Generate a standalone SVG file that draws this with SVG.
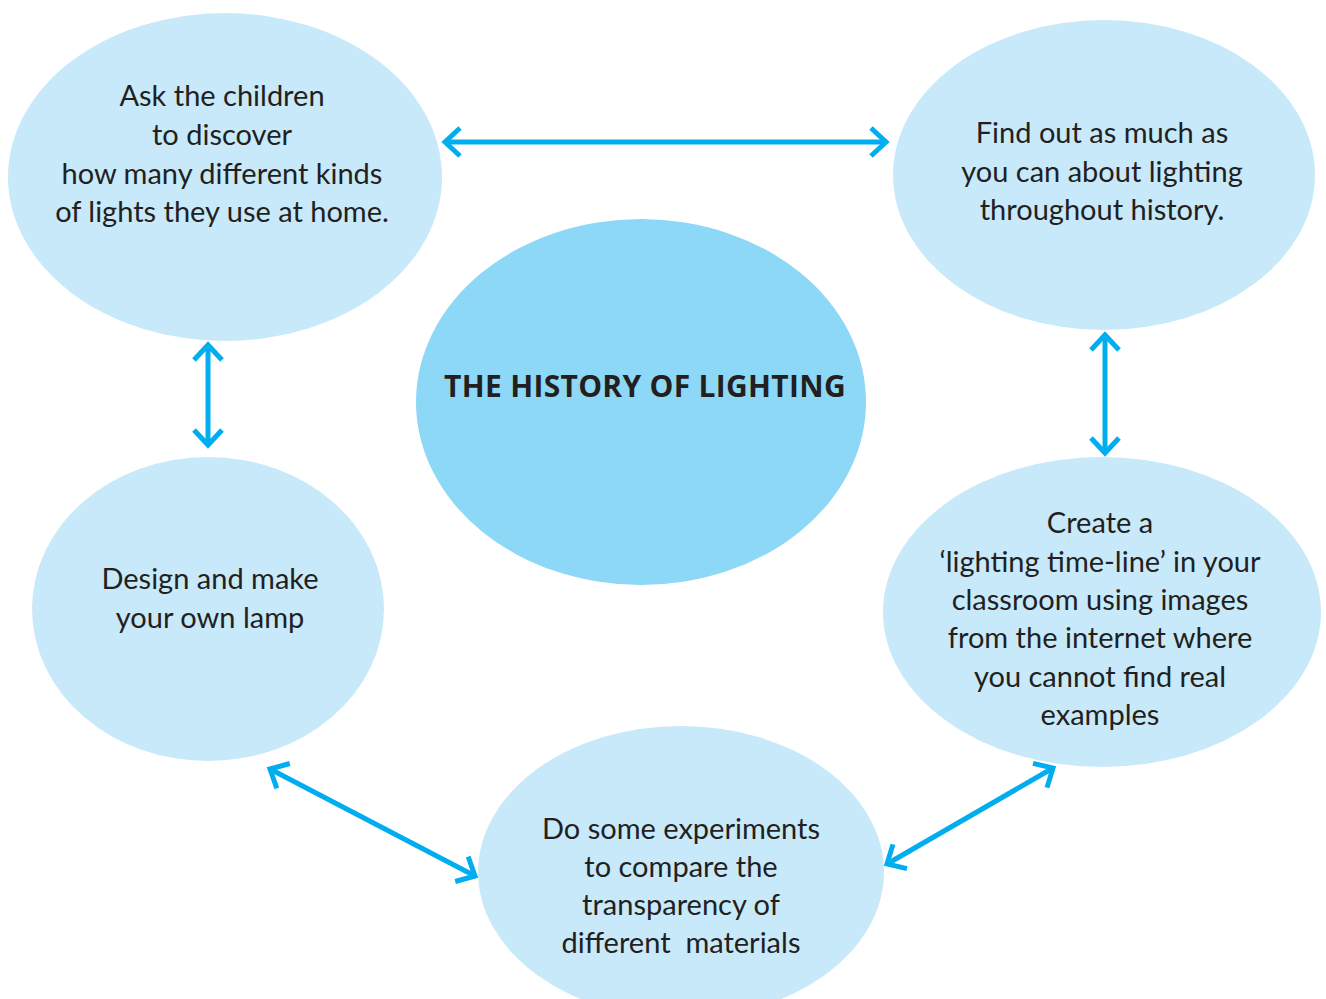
<svg xmlns="http://www.w3.org/2000/svg" width="1326" height="999" viewBox="0 0 1326 999">
<defs>
<style>
.n{fill:#C7E9F9}
.c{fill:#8DD8F6}
.t{font-family:Lato,"Open Sans",sans-serif;font-size:29px;fill:#231F20;text-anchor:middle}
.b{font-family:"Open Sans",Lato,sans-serif;font-size:30px;font-weight:bold;fill:#231F20;text-anchor:middle;letter-spacing:0.3px}
.a{stroke:#00AEEF;stroke-width:5;fill:none;marker-start:url(#h);marker-end:url(#h)}
</style>
<marker id="h" markerUnits="userSpaceOnUse" viewBox="-22 -20 27 40" refX="0" refY="0" markerWidth="27" markerHeight="40" orient="auto-start-reverse">
<path d="M-15,-14 L0,0 L-15,14" fill="none" stroke="#00AEEF" stroke-width="5"/>
</marker>
</defs>
<rect width="1326" height="999" fill="#fff"/>
<g id="n1"><ellipse class="n" cx="225" cy="177" rx="217" ry="164"/>
<text class="t"><tspan x="222" y="106">Ask the children</tspan><tspan x="222" y="145">to discover</tspan><tspan x="222" y="184">how many different kinds</tspan><tspan x="222" y="222">of lights they use at home.</tspan></text></g>
<g id="n2"><ellipse class="n" cx="1104" cy="175" rx="211" ry="155"/>
<text class="t"><tspan x="1102" y="143">Find out as much as</tspan><tspan x="1102" y="182">you can about lighting</tspan><tspan x="1102" y="220">throughout history.</tspan></text></g>
<g id="center"><ellipse class="c" cx="641" cy="402" rx="225" ry="183"/>
<text class="b" x="645" y="397">THE HISTORY OF LIGHTING</text></g>
<g id="n3"><ellipse class="n" cx="208" cy="609" rx="176" ry="152"/>
<text class="t"><tspan x="210" y="589">Design and make</tspan><tspan x="210" y="628">your own lamp</tspan></text></g>
<g id="n4"><ellipse class="n" cx="1102" cy="612" rx="219" ry="155"/>
<text class="t"><tspan x="1100" y="533">Create a</tspan><tspan x="1100" y="572">‘lighting time-line’ in your</tspan><tspan x="1100" y="610">classroom using images</tspan><tspan x="1100" y="648">from the internet where</tspan><tspan x="1100" y="687">you cannot find real</tspan><tspan x="1100" y="725">examples</tspan></text></g>
<g id="n5"><ellipse class="n" cx="681" cy="872" rx="203" ry="146"/>
<text class="t" xml:space="preserve"><tspan x="681" y="839">Do some experiments</tspan><tspan x="681" y="877">to compare the</tspan><tspan x="681" y="915">transparency of</tspan><tspan x="681" y="953">different  materials</tspan></text></g>
<g id="connectors">
<path class="a" d="M445,142 L886,142"/>
<path class="a" d="M208,345 L208,445"/>
<path class="a" d="M1105,335 L1105,453"/>
<path class="a" d="M270,769 L475,876"/>
<path class="a" d="M887,864 L1053,768"/>
</g>
</svg>
